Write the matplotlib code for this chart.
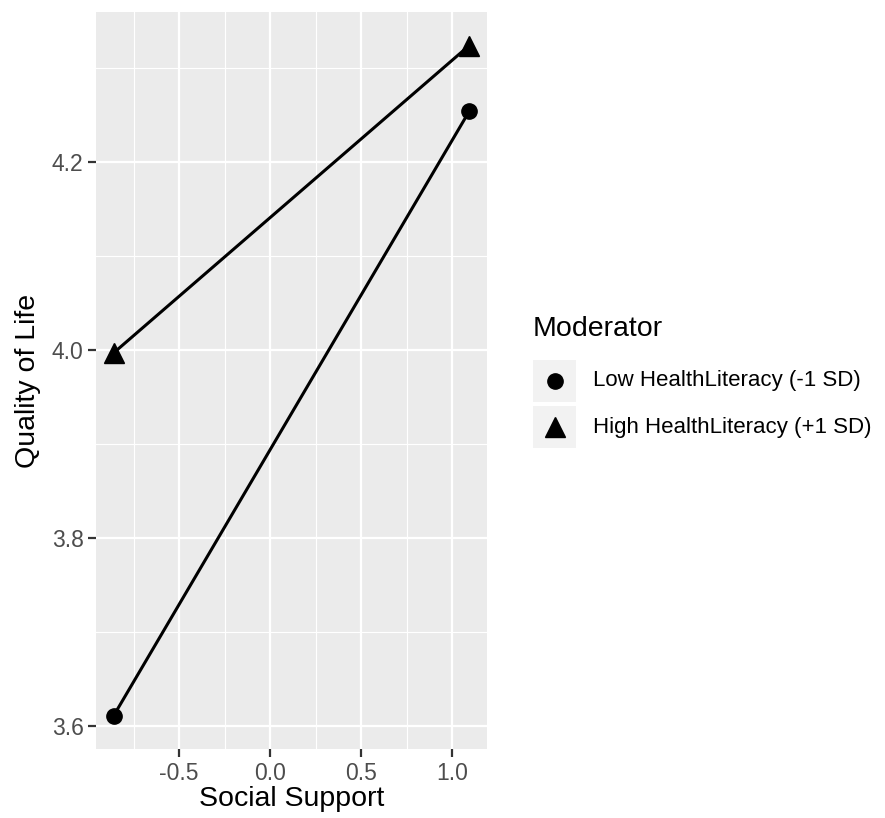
import matplotlib
matplotlib.use("Agg")
import matplotlib.pyplot as plt
from matplotlib.patches import Rectangle
from matplotlib.lines import Line2D

plt.rcParams['font.family'] = ['Liberation Sans', 'DejaVu Sans']

# data
social_support = [-0.859, 1.092]
low_hl = [3.611, 4.254]
high_hl = [3.997, 4.324]
series_labels = ["Low HealthLiteracy (-1 SD)", "High HealthLiteracy (+1 SD)"]
x_ticks = [-0.5, 0.0, 0.5, 1.0]
y_ticks = [3.6, 3.8, 4.0, 4.2]

W, H = 885, 818
fig = plt.figure(figsize=(W / 100, H / 100), dpi=100)
ax = fig.add_axes([96 / W, 1 - 749 / H, (487 - 96) / W, (749 - 12) / H])
ax.set_facecolor('#EBEBEB')
for s in ax.spines.values():
    s.set_visible(False)

ax.plot(social_support, low_hl, color='black', lw=2.2, marker='o', ms=11, zorder=3)
ax.plot(social_support, high_hl, color='black', lw=2.2, marker='^', ms=14, zorder=3)

# ggplot style 5% expansion
xr = social_support[1] - social_support[0]
ax.set_xlim(social_support[0] - 0.05 * xr, social_support[1] + 0.05 * xr)
yr = max(high_hl) - min(low_hl)
ax.set_ylim(min(low_hl) - 0.05 * yr, max(high_hl) + 0.05 * yr)

ax.set_xticks(x_ticks)
ax.set_xticklabels([f"{v:.1f}" for v in x_ticks])
ax.set_yticks(y_ticks)
ax.set_yticklabels([f"{v:.1f}" for v in y_ticks])
ax.set_xticks([-0.75, -0.25, 0.25, 0.75], minor=True)
ax.set_yticks([3.7, 3.9, 4.1, 4.3], minor=True)
ax.grid(which='major', color='white', lw=1.6)
ax.grid(which='minor', color='white', lw=0.8)
ax.set_axisbelow(True)
ax.tick_params(which='major', length=5.5, width=1.6, color='#333333',
               labelcolor='#4D4D4D', labelsize=16.5, pad=3.5)
ax.tick_params(which='minor', length=0)

ax.set_xlabel("Social Support", fontsize=20.5, labelpad=1)
ax.set_ylabel("Quality of Life", fontsize=20.5, labelpad=8)

# legend drawn by hand (ggplot look)
def fx(px):
    return px / W

def fy(py):
    return 1 - py / H

fig.text(fx(533), fy(329), "Moderator", fontsize=20.5, va='center', ha='left')
markers = [('o', 11), ('^', 14)]
for i, (lab, (m, ms)) in enumerate(zip(series_labels, markers)):
    top = 360 + i * 46
    fig.add_artist(Rectangle((fx(533), fy(top + 42)), 43 / W, 42 / H,
                             transform=fig.transFigure, facecolor='#F2F2F2',
                             edgecolor='none'))
    fig.add_artist(Line2D([fx(554.5)], [fy(top + 21)], marker=m, ms=ms,
                          color='black', transform=fig.transFigure))
    fig.text(fx(593), fy(top + 21), lab, fontsize=16, va='center', ha='left')

fig.savefig("out.png", dpi=100)
